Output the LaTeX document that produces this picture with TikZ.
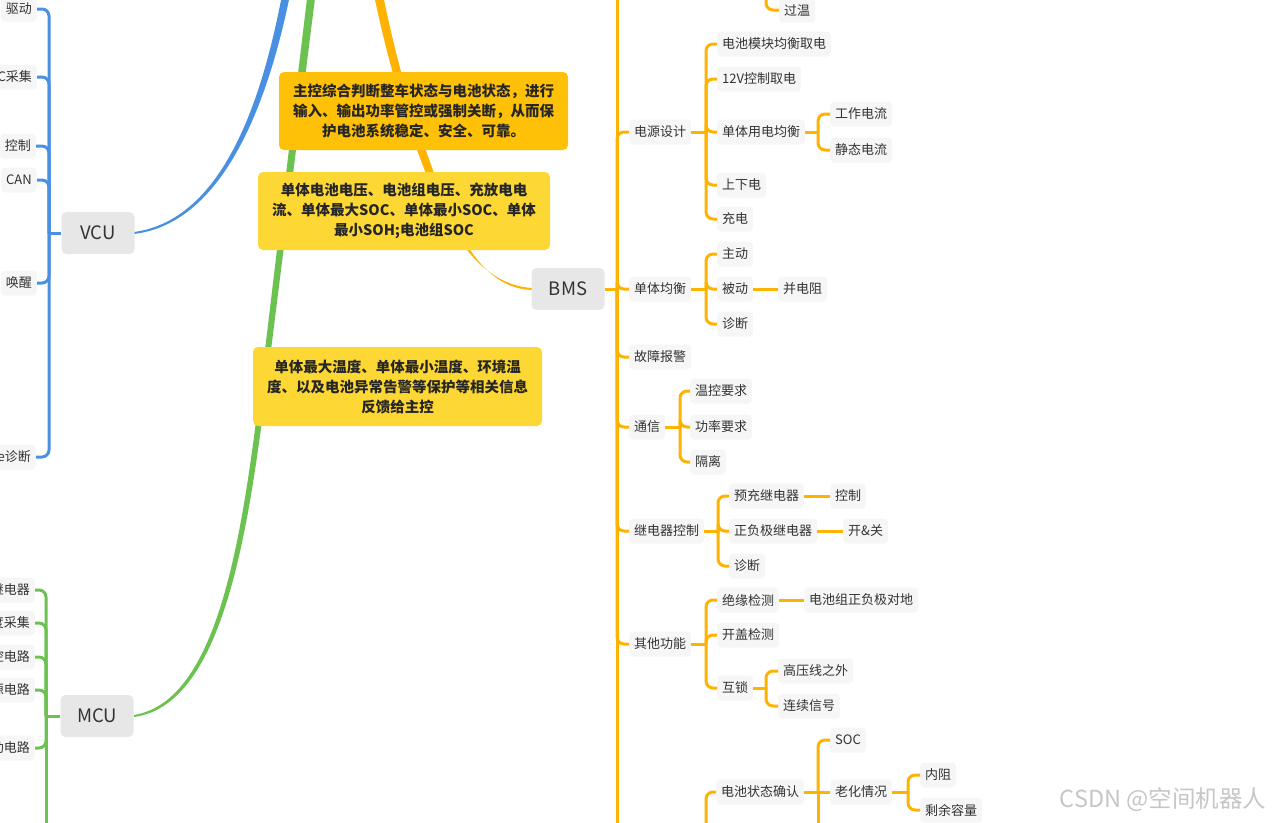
\documentclass[tikz,border=0pt]{standalone}
\usepackage{fontspec}
\setmainfont{Noto Sans CJK SC}
\usepackage{tikz}

\definecolor{vcublue}{RGB}{74,144,226}
\definecolor{mcugreen}{RGB}{108,194,80}
\definecolor{bmsorange}{RGB}{255,179,0}
\definecolor{leafgray}{RGB}{246,246,246}
\definecolor{rootgray}{RGB}{231,231,231}
\definecolor{noteamber}{RGB}{255,193,7}
\definecolor{noteyellow}{RGB}{253,216,53}
\definecolor{txtgray}{RGB}{51,51,51}

\begin{document}
\begin{tikzpicture}[x=1pt, y=-1pt,
    leaf/.style={fill=leafgray, rounded corners=4pt, inner xsep=5pt, inner ysep=0pt, minimum height=25pt, text=txtgray, font=\fontsize{13}{15}\selectfont},
    root/.style={fill=rootgray, rounded corners=5pt, minimum width=73pt, minimum height=42pt, text=txtgray, font=\fontsize{18.5}{20}\selectfont},
    note/.style={rounded corners=5pt, align=center, inner sep=0pt, text=black!85, font=\fontsize{14.5}{20}\selectfont\bfseries},
    obr/.style={draw=bmsorange, line width=3pt, rounded corners=7pt},
    bbr/.style={draw=vcublue, line width=3pt, rounded corners=7pt},
    gbr/.style={draw=mcugreen, line width=3pt, rounded corners=7pt}]
    \useasboundingbox (0,0) rectangle (1274,822);
    \clip (0,0) rectangle (1274,822);

    % main branches (tapered)
    \fill[vcublue] (134,232) .. controls (230,219) and (266,80) .. (283,-10) -- (291,-10) .. controls (273,80) and (232,222) .. (134,234) -- cycle;
    \fill[mcugreen] (134,715) .. controls (227,700) and (246,500) .. (265,350) -- (308,-10) -- (316,-10) -- (271,350) .. controls (252,500) and (231,704) .. (134,717) -- cycle;
    \fill[bmsorange] (532,288) .. controls (470,284) and (439,211) .. (413,139) .. controls (398,95) and (383,40) .. (373,-10) -- (382,-10) .. controls (392,40) and (406,95) .. (421,137) .. controls (447,209) and (472,288) .. (532,290) -- cycle;

    \node[root] (vcu) at (98,233) {VCU};
    \node[root] (bms) at (568,289) {BMS};
    \node[root] (mcu) at (97,716) {MCU};

    % VCU
    \node[leaf, anchor=east] (qudong) at (37,9) {驱动};
    \node[leaf, anchor=east] (caiji) at (37,77) {C采集};
    \node[leaf, anchor=east] (kongzhi) at (36,146) {控制};
    \node[leaf, anchor=east] (can) at (37,180) {CAN};
    \node[leaf, anchor=east] (huanxing) at (37,283) {唤醒};
    \node[leaf, anchor=east] (zhenduan) at (36,457) {e诊断};
    \draw[bbr] (vcu.west) -- (49,233);
    \foreach \n in {qudong,caiji,kongzhi,can,huanxing,zhenduan}
        \draw[bbr] (49,233) |- (\n.east);

    % MCU
    \node[leaf, anchor=east] (jidianqi) at (35,590) {继电器};
    \node[leaf, anchor=east] (ducaiji) at (35,623) {度采集};
    \node[leaf, anchor=east] (kongdl) at (35,657) {控电路};
    \node[leaf, anchor=east] (yuandl) at (35,690) {源电路};
    \node[leaf, anchor=east] (dongdl) at (35,748) {动电路};
    \draw[gbr] (mcu.west) -- (46,716);
    \draw[gbr] (46,716) -- (46,840);
    \foreach \n in {jidianqi,ducaiji,kongdl,yuandl,dongdl}
        \draw[gbr] (46,716) |- (\n.east);

    % BMS
    \draw[obr] (bms.east) -- (617,289);
    \draw[obr] (617,289) -- (617,-20);
    \draw[obr] (617,289) -- (617,840);
    \node[leaf, anchor=west] (dysj) at (629,132) {电源设计};
    \node[leaf, anchor=west] (dtjh) at (629,289) {单体均衡};
    \node[leaf, anchor=west] (gzbj) at (629,357) {故障报警};
    \node[leaf, anchor=west] (tx) at (629,427) {通信};
    \node[leaf, anchor=west] (jdqkz) at (629,531) {继电器控制};
    \node[leaf, anchor=west] (qtgn) at (629,644) {其他功能};
    \foreach \n in {dysj,dtjh,gzbj,tx,jdqkz,qtgn}
        \draw[obr] (617,289) |- (\n.west);

    \node[leaf, anchor=west] (gw) at (779,10) {过温};
    \draw[obr] (766,-20) |- (gw.west);

    % 电源设计
    \node[leaf, anchor=west] (dcmk) at (717,44) {电池模块均衡取电};
    \node[leaf, anchor=west] (kz12v) at (717,79) {12V控制取电};
    \node[leaf, anchor=west] (dtyd) at (717,132) {单体用电均衡};
    \node[leaf, anchor=west] (sxd) at (717,185) {上下电};
    \node[leaf, anchor=west] (cd) at (717,219) {充电};
    \draw[obr] (dysj.east) -- (706,132);
    \foreach \n in {dcmk,kz12v,dtyd,sxd,cd}
        \draw[obr] (706,132) |- (\n.west);
    \node[leaf, anchor=west] (gzdl) at (830,114) {工作电流};
    \node[leaf, anchor=west] (jtdl) at (830,150) {静态电流};
    \draw[obr] (dtyd.east) -- (818,132);
    \foreach \n in {gzdl,jtdl}
        \draw[obr] (818,132) |- (\n.west);

    % 单体均衡
    \node[leaf, anchor=west] (zhudong) at (717,254) {主动};
    \node[leaf, anchor=west] (beidong) at (717,289) {被动};
    \node[leaf, anchor=west] (zdA) at (717,324) {诊断};
    \draw[obr] (dtjh.east) -- (706,289);
    \foreach \n in {zhudong,beidong,zdA}
        \draw[obr] (706,289) |- (\n.west);
    \node[leaf, anchor=west] (bdz) at (778,289) {并电阻};
    \draw[obr] (beidong.east) -- (bdz.west);

    % 通信
    \node[leaf, anchor=west] (wkyq) at (690,391) {温控要求};
    \node[leaf, anchor=west] (glyq) at (690,427) {功率要求};
    \node[leaf, anchor=west] (geli) at (690,462) {隔离};
    \draw[obr] (tx.east) -- (680,427);
    \foreach \n in {wkyq,glyq,geli}
        \draw[obr] (680,427) |- (\n.west);

    % 继电器控制
    \node[leaf, anchor=west] (ycjdq) at (729,496) {预充继电器};
    \node[leaf, anchor=west] (zfjdq) at (729,531) {正负极继电器};
    \node[leaf, anchor=west] (zdB) at (729,566) {诊断};
    \draw[obr] (jdqkz.east) -- (718,531);
    \foreach \n in {ycjdq,zfjdq,zdB}
        \draw[obr] (718,531) |- (\n.west);
    \node[leaf, anchor=west] (kzB) at (830,496) {控制};
    \node[leaf, anchor=west] (kaiguan) at (843,531) {开\&关};
    \draw[obr] (ycjdq.east) -- (kzB.west);
    \draw[obr] (zfjdq.east) -- (kaiguan.west);

    % 其他功能
    \node[leaf, anchor=west] (jyjc) at (717,600) {绝缘检测};
    \node[leaf, anchor=west] (kgjc) at (717,635) {开盖检测};
    \node[leaf, anchor=west] (husuo) at (717,688) {互锁};
    \draw[obr] (qtgn.east) -- (706,644);
    \foreach \n in {jyjc,kgjc,husuo}
        \draw[obr] (706,644) |- (\n.west);
    \node[leaf, anchor=west] (duidi) at (804,600) {电池组正负极对地};
    \draw[obr] (jyjc.east) -- (duidi.west);
    \node[leaf, anchor=west] (gyx) at (778,671) {高压线之外};
    \node[leaf, anchor=west] (lxxh) at (778,706) {连续信号};
    \draw[obr] (husuo.east) -- (766,688);
    \foreach \n in {gyx,lxxh}
        \draw[obr] (766,688) |- (\n.west);

    % 电池状态确认
    \node[leaf, anchor=west] (dczt) at (716,792) {电池状态确认};
    \draw[obr] (706,840) |- (dczt.west);
    \node[leaf, anchor=west] (soc) at (830,740) {SOC};
    \node[leaf, anchor=west] (lhqk) at (830,792) {老化情况};
    \draw[obr] (dczt.east) -- (818,792);
    \draw[obr] (818,792) |- (soc.west);
    \draw[obr] (818,792) -- (lhqk.west);
    \draw[obr] (818,792) -- (818,840);
    \node[leaf, anchor=west] (neizu) at (920,775) {内阻};
    \node[leaf, anchor=west] (syrl) at (920,810) {剩余容量};
    \draw[obr] (lhqk.east) -- (908,792);
    \foreach \n in {neizu,syrl}
        \draw[obr] (908,792) |- (\n.west);

    % notes
    \node[note, fill=noteamber, minimum width=289pt, minimum height=78pt] (zhukong) at (423.5,111) {主控综合判断整车状态与电池状态，进行\\输入、输出功率管控或强制关断，从而保\\护电池系统稳定、安全、可靠。};
    \node[note, fill=noteyellow, minimum width=292pt, minimum height=78pt] (dianya) at (404,211) {单体电池电压、电池组电压、充放电电\\流、单体最大SOC、单体最小SOC、单体\\最小SOH;电池组SOC};
    \node[note, fill=noteyellow, minimum width=289pt, minimum height=79pt] (wendu) at (397.5,386.5) {单体最大温度、单体最小温度、环境温\\度、以及电池异常告警等保护等相关信息\\反馈给主控};

    \node[font=\fontsize{23.5}{26}\selectfont, text=gray!45, anchor=east] (wm) at (1270,800) {CSDN @空间机器人};
\end{tikzpicture}
\end{document}
